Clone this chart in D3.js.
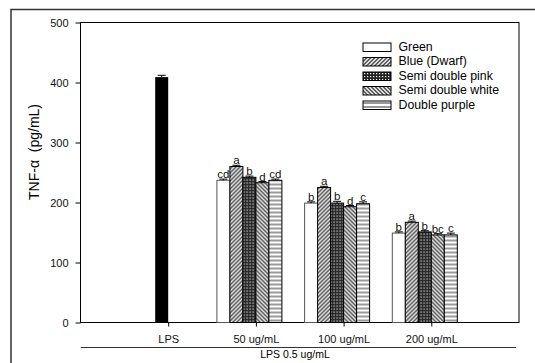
<!DOCTYPE html>
<html>
<head>
<meta charset="utf-8">
<script src="https://cdn.jsdelivr.net/npm/d3@7"></script>
<style>
  body { margin: 0; background: #fff; }
  svg { display: block; font-family: Arial, "Liberation Sans", sans-serif; }
</style>
</head>
<body>
<svg id="chart" width="535" height="363"></svg>
<script>
var categories = ["LPS", "50 ug/mL", "100 ug/mL", "200 ug/mL"];
var doses = ["50 ug/mL", "100 ug/mL", "200 ug/mL"];
var series = ["Green", "Blue (Dwarf)", "Semi double pink", "Semi double white", "Double purple"];

var lpsValue = [409];
var lpsError = [3];

var green = [237, 199, 149];
var blue = [260, 225, 167];
var pink = [242, 199, 151];
var white = [233, 193, 146];
var purple = [237, 198, 146];

var greenErr = [2, 2, 2];
var blueErr = [2, 2, 2];
var pinkErr = [2, 3, 2];
var whiteErr = [2, 2, 2];
var purpleErr = [2, 3, 3];

var greenSig = ["cd", "b", "b"];
var blueSig = ["a", "a", "a"];
var pinkSig = ["b", "b", "b"];
var whiteSig = ["d", "d", "bc"];
var purpleSig = ["cd", "c", "c"];

var yTicks = [0, 100, 200, 300, 400, 500];

var values = [green, blue, pink, white, purple];
var errors = [greenErr, blueErr, pinkErr, whiteErr, purpleErr];
var sigs = [greenSig, blueSig, pinkSig, whiteSig, purpleSig];
var fills = ["#fff", "url(#fwd)", "url(#check)", "url(#back)", "url(#horiz)"];

var margin = {left: 80.5, right: 16, top: 22.5, bottom: 40.5};
var width = 535 - margin.left - margin.right;
var height = 363 - margin.top - margin.bottom;

var svg = d3.select('#chart');

// patterns
var defs = svg.append('defs');
var fwd = defs.append('pattern').attr('id', 'fwd').attr('patternUnits', 'userSpaceOnUse')
    .attr('width', 4).attr('height', 4);
fwd.append('rect').attr('width', 4).attr('height', 4).attr('fill', '#fff');
fwd.append('path').attr('d', 'M-1,1 l2,-2 M0,4 l4,-4 M3,5 l2,-2').attr('stroke', '#000').attr('stroke-width', 1.1);

var back = defs.append('pattern').attr('id', 'back').attr('patternUnits', 'userSpaceOnUse')
    .attr('width', 4).attr('height', 4);
back.append('rect').attr('width', 4).attr('height', 4).attr('fill', '#fff');
back.append('path').attr('d', 'M-1,3 l2,2 M0,0 l4,4 M3,-1 l2,2').attr('stroke', '#000').attr('stroke-width', 1.1);

var check = defs.append('pattern').attr('id', 'check').attr('patternUnits', 'userSpaceOnUse')
    .attr('width', 3).attr('height', 3);
check.append('rect').attr('width', 3).attr('height', 3).attr('fill', '#222');
check.append('rect').attr('x', 1).attr('y', 1).attr('width', 1.2).attr('height', 1.2).attr('fill', '#fff');

var horiz = defs.append('pattern').attr('id', 'horiz').attr('patternUnits', 'userSpaceOnUse')
    .attr('width', 4).attr('height', 4);
horiz.append('rect').attr('width', 4).attr('height', 4).attr('fill', '#fff');
horiz.append('line').attr('x1', 0).attr('x2', 4).attr('y1', 2).attr('y2', 2).attr('stroke', '#333').attr('stroke-width', 1);

// outer frame
svg.append('path').attr('d', 'M11,363 V9.5 H535').attr('fill', 'none')
    .attr('stroke', '#333').attr('stroke-width', 1.5);

var g = svg.append('g').attr('transform', 'translate(' + margin.left + ',' + margin.top + ')');

var x = d3.scalePoint().domain(categories).range([0, width]).padding(1);
var slot = d3.scaleBand().domain(d3.range(6)).range([-39, 39]);
var y = d3.scaleLinear().domain([0, 500]).range([height, 0]);

// plot box
g.append('rect').attr('width', width).attr('height', height)
    .attr('fill', 'none').attr('stroke', '#000').attr('stroke-width', 1);

var yAxis = g.append('g').call(d3.axisLeft(y).tickValues(yTicks).tickSize(5).tickPadding(7));
var xAxis = g.append('g').attr('transform', 'translate(0,' + height + ')')
    .call(d3.axisBottom(x).tickSize(4).tickPadding(9));
[yAxis, xAxis].forEach(function(a) {
  a.select('.domain').remove();
  a.selectAll('text').attr('font-size', 11).attr('fill', '#111').attr('font-family', 'Arial, "Liberation Sans", sans-serif');
  a.selectAll('line').attr('stroke', '#000');
});

// LPS bar
var lpsX = x('LPS') + slot(2);
g.selectAll('.lps').data(lpsValue).enter().append('rect')
    .attr('class', 'lps')
    .attr('x', lpsX).attr('width', slot.bandwidth())
    .attr('y', function(d) { return y(d); })
    .attr('height', function(d) { return height - y(d); })
    .attr('fill', '#000');

function errorBar(cx, v, e) {
  g.append('line').attr('x1', cx).attr('x2', cx).attr('y1', y(v)).attr('y2', y(v + e)).attr('stroke', '#000');
  g.append('line').attr('x1', cx - 4).attr('x2', cx + 4).attr('y1', y(v + e)).attr('y2', y(v + e)).attr('stroke', '#000');
}
errorBar(lpsX + slot.bandwidth() / 2, lpsValue[0], lpsError[0]);

// treatment bars
series.forEach(function(name, s) {
  doses.forEach(function(dose, i) {
    var v = values[s][i];
    var bx = x(dose) + slot(s);
    g.append('rect')
      .attr('x', bx).attr('width', slot.bandwidth())
      .attr('y', y(v)).attr('height', height - y(v))
      .attr('fill', fills[s]).attr('stroke', s == 0 ? '#555' : '#000').attr('stroke-width', 1);
    errorBar(bx + slot.bandwidth() / 2, v, errors[s][i]);
    g.append('text')
      .attr('x', bx + slot.bandwidth() / 2)
      .attr('y', y(v + errors[s][i]) - 1)
      .attr('text-anchor', 'middle')
      .attr('font-size', 11.5)
      .attr('fill', '#111')
      .text(sigs[s][i]);
  });
});

// y title
g.append('text')
  .attr('transform', 'translate(' + (35 - margin.left) + ',' + (152 - margin.top) + ') rotate(-90)')
  .attr('text-anchor', 'middle')
  .attr('dominant-baseline', 'middle')
  .attr('font-size', 14)
  .attr('xml:space', 'preserve')
  .text('TNF-α  (pg/mL)');

// bottom group line
svg.append('line').attr('x1', 80.7).attr('x2', 516).attr('y1', 347.5).attr('y2', 347.5)
    .attr('stroke', '#333').attr('stroke-width', 1);
svg.append('text').attr('x', 295).attr('y', 358).attr('text-anchor', 'middle')
    .attr('font-size', 10.5).text('LPS 0.5 ug/mL');

// legend
var legend = svg.append('g').attr('transform', 'translate(363,43)');
var rows = legend.selectAll('g').data(series).enter().append('g')
    .attr('transform', function(d, i) { return 'translate(0,' + (i * 14.5) + ')'; });
rows.append('rect').attr('width', 28).attr('height', 8.5)
    .attr('fill', function(d, i) { return fills[i]; })
    .attr('stroke', '#000').attr('stroke-width', 1);
rows.append('text').attr('x', 35.5).attr('y', 4.5).attr('dominant-baseline', 'middle')
    .attr('font-size', 12.3).text(function(d) { return d; });
</script>
</body>
</html>
